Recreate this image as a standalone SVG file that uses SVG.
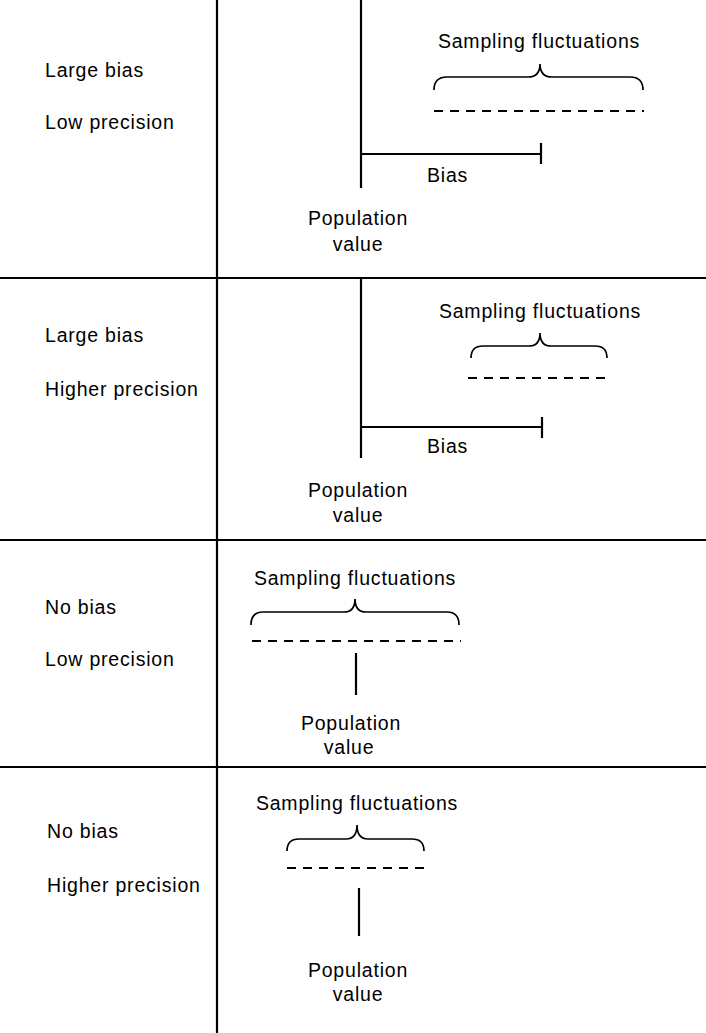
<svg xmlns="http://www.w3.org/2000/svg" width="706" height="1033" viewBox="0 0 706 1033">
<style>
  text { font-family: "Liberation Sans", Arial, Helvetica, sans-serif; font-size: 19.5px; letter-spacing: 0.8px; fill: #000; }
  .mid { text-anchor: middle; }
  .grid { stroke: #000; stroke-width: 2.2; fill: none; }
  .solid { stroke: #000; stroke-width: 2.2; fill: none; }
  .brace { stroke: #000; stroke-width: 1.7; fill: none; }
  .dash { stroke: #000; stroke-width: 1.8; fill: none; stroke-dasharray: 9 7; }
</style>
<rect width="706" height="1033" fill="#fff"/>
<g id="grid">
  <line class="grid" x1="217" y1="0" x2="217" y2="1033"/>
  <line class="grid" x1="0" y1="278" x2="706" y2="278"/>
  <line class="grid" x1="0" y1="540" x2="706" y2="540"/>
  <line class="grid" x1="0" y1="767" x2="706" y2="767"/>
</g>
<g id="panel1">
  <text x="45" y="77">Large bias</text>
  <text x="45" y="129">Low precision</text>
  <text class="mid" x="539" y="48">Sampling fluctuations</text>
  <path class="brace" d="M434,90 Q434,77 447,77 L528,77 Q540,77 540,64 Q540,77 552,77 L630,77 Q643,77 643,90"/>
  <line class="dash" x1="434" y1="111" x2="644" y2="111"/>
  <line class="solid" x1="361" y1="0" x2="361" y2="188"/>
  <line class="solid" x1="361" y1="154" x2="541" y2="154"/>
  <line class="solid" x1="541" y1="143" x2="541" y2="164"/>
  <text x="427" y="182">Bias</text>
  <text class="mid" x="358" y="225">Population</text>
  <text class="mid" x="358" y="251">value</text>
</g>
<g id="panel2">
  <text x="45" y="342">Large bias</text>
  <text x="45" y="396">Higher precision</text>
  <text class="mid" x="540" y="318">Sampling fluctuations</text>
  <path class="brace" d="M471,358 Q471,346 483,346 L529,346 Q540,346 540,333 Q540,346 551,346 L595,346 Q607,346 607,358"/>
  <line class="dash" x1="468" y1="378" x2="606" y2="378"/>
  <line class="solid" x1="361" y1="278" x2="361" y2="458"/>
  <line class="solid" x1="361" y1="427" x2="542" y2="427"/>
  <line class="solid" x1="542" y1="417" x2="542" y2="438"/>
  <text x="427" y="453">Bias</text>
  <text class="mid" x="358" y="497">Population</text>
  <text class="mid" x="358" y="522">value</text>
</g>
<g id="panel3">
  <text x="45" y="614">No bias</text>
  <text x="45" y="666">Low precision</text>
  <text class="mid" x="355" y="585">Sampling fluctuations</text>
  <path class="brace" d="M251,625 Q251,612 263,612 L344,612 Q355,612 355,599 Q355,612 366,612 L447,612 Q459,612 459,625"/>
  <line class="dash" x1="252" y1="641" x2="461" y2="641"/>
  <line class="solid" x1="356" y1="653" x2="356" y2="695"/>
  <text class="mid" x="351" y="730">Population</text>
  <text class="mid" x="349" y="754">value</text>
</g>
<g id="panel4">
  <text x="47" y="838">No bias</text>
  <text x="47" y="892">Higher precision</text>
  <text class="mid" x="357" y="810">Sampling fluctuations</text>
  <path class="brace" d="M287,851 Q287,839 299,839 L346,839 Q357,839 357,825 Q357,839 368,839 L412,839 Q424,839 424,851"/>
  <line class="dash" x1="287" y1="868" x2="426" y2="868"/>
  <line class="solid" x1="359" y1="888" x2="359" y2="936"/>
  <text class="mid" x="358" y="977">Population</text>
  <text class="mid" x="358" y="1001">value</text>
</g>
</svg>
